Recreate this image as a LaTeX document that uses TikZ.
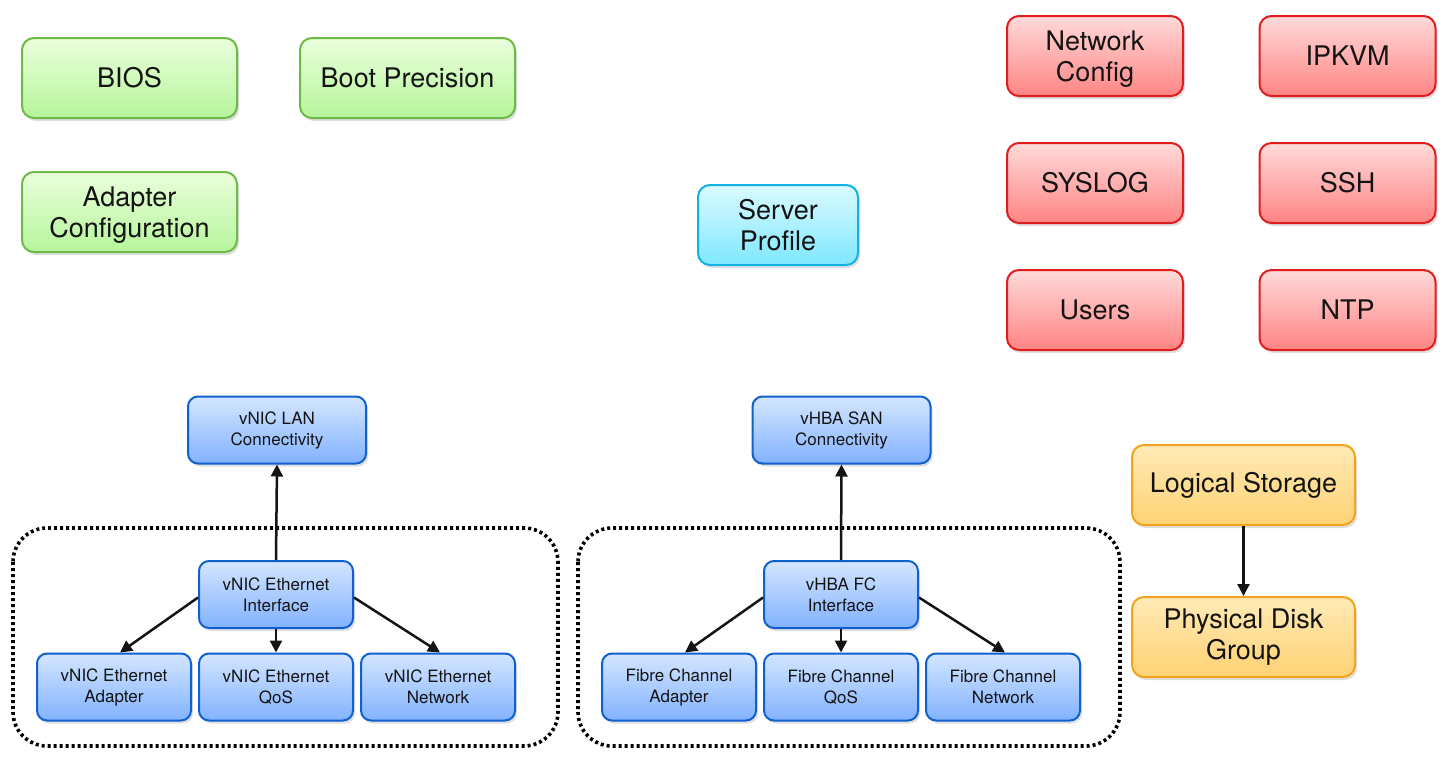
\documentclass[tikz,border=0pt]{standalone}
\usepackage{fontspec}
\setmainfont{TeX Gyre Heros}
\usetikzlibrary{shadows,arrows.meta}
\definecolor{gtop}{HTML}{EAFFDC}\definecolor{gbot}{HTML}{B6F59C}\definecolor{gbd}{HTML}{6CBB48}
\definecolor{rtop}{HTML}{FFDADA}\definecolor{rbot}{HTML}{FF8484}\definecolor{rbd}{HTML}{E01E1E}
\definecolor{ctop}{HTML}{DAFAFF}\definecolor{cbot}{HTML}{7FE8FF}\definecolor{cbd}{HTML}{12B2E2}
\definecolor{btop}{HTML}{D4E6FF}\definecolor{bbot}{HTML}{82B2FF}\definecolor{bbd}{HTML}{1060CF}
\definecolor{otop}{HTML}{FFEAB6}\definecolor{obot}{HTML}{FFD274}\definecolor{obd}{HTML}{F5A21E}
\definecolor{txt}{HTML}{141414}
\tikzset{
  base/.style={rounded corners=6pt, line width=1pt, inner sep=0pt, align=center, text=txt,
    drop shadow={opacity=0.25, shadow xshift=1pt, shadow yshift=-1.5pt}},
  big/.style={base, font=\fontsize{13.5}{15.5}\selectfont},
  small/.style={base, rounded corners=5pt, font=\fontsize{8.5}{10.5}\selectfont},
  green/.style={big, draw=gbd, top color=gtop, bottom color=gbot, minimum width=107.5pt, minimum height=40pt},
  red/.style={big, draw=rbd, top color=rtop, bottom color=rbot, minimum width=88pt, minimum height=40pt},
  cyan/.style={big, draw=cbd, top color=ctop, bottom color=cbot, minimum width=80pt, minimum height=40pt},
  orange/.style={big, draw=obd, top color=otop, bottom color=obot, minimum width=111.5pt, minimum height=40pt},
  blue/.style={small, draw=bbd, top color=btop, bottom color=bbot, minimum width=77pt, minimum height=33.5pt},
  bluewide/.style={blue, minimum width=89pt},
  lowtext/.style={text depth=0pt},
  group/.style={draw=black, line width=1.8pt, dash pattern=on 1.5pt off 1.5pt, rounded corners=17pt},
  arr/.style={line width=1.25pt, draw=txt, -{Triangle[length=6pt,width=6pt]}}
}
\begin{document}
\begin{tikzpicture}[x=0.5pt,y=-0.5pt]
\useasboundingbox (0,0) rectangle (1446,761);
\node[green] (bios) at (129.5,78) {BIOS};
\node[green] (boot) at (407.5,78) {Boot Precision};
\node[green, lowtext] (adapt) at (129.5,212) {Adapter\\Configuration};
\node[cyan] (sp) at (778,225) {Server\\Profile};
\node[red, lowtext] (netc) at (1095,56) {Network\\Config};
\node[red] (ipkvm) at (1347.5,56) {IPKVM};
\node[red] (syslog) at (1095,183) {SYSLOG};
\node[red] (ssh) at (1347.5,183) {SSH};
\node[red] (users) at (1095,310) {Users};
\node[red] (ntp) at (1347.5,310) {NTP};
\node[orange] (ls) at (1243.5,485) {Logical Storage};
\node[orange] (pdg) at (1243.5,637) {Physical Disk\\Group};
\draw[group] (13,528) rectangle (558,746);
\draw[group] (578,528) rectangle (1120,746);
\node[bluewide] (lan) at (277,430) {vNIC LAN\\Connectivity};
\node[bluewide] (san) at (841.5,430) {vHBA SAN\\Connectivity};
\node[blue] (ei) at (276,594.5) {vNIC Ethernet\\Interface};
\node[blue] (ea) at (114,687) {vNIC Ethernet\\Adapter};
\node[blue] (eq) at (276,687) {vNIC Ethernet\\QoS};
\node[blue] (en) at (438,687) {vNIC Ethernet\\Network};
\node[blue] (fi) at (841,594.5) {vHBA FC\\Interface};
\node[blue] (fa) at (679,687) {Fibre Channel\\Adapter};
\node[blue] (fq) at (841,687) {Fibre Channel\\QoS};
\node[blue] (fn) at (1003,687) {Fibre Channel\\Network};
\draw[arr] (ei.north) -- (lan.south);
\draw[arr] (ei.south) -- (eq.north);
\draw[arr] ([yshift=-1.5pt]ei.west) -- ([xshift=3pt]ea.north);
\draw[arr] ([yshift=-1.5pt]ei.east) -- ([xshift=1pt]en.north);
\draw[arr] (fi.north) -- (san.south);
\draw[arr] (fi.south) -- (fq.north);
\draw[arr] ([yshift=-1.5pt]fi.west) -- ([xshift=3pt]fa.north);
\draw[arr] ([yshift=-1.5pt]fi.east) -- ([xshift=1pt]fn.north);
\draw[arr] (ls.south) -- (pdg.north);
\end{tikzpicture}
\end{document}
